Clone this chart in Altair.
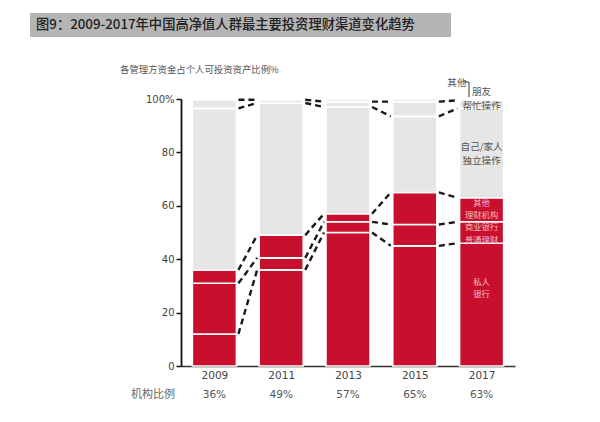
import altair as alt
import pandas as pd

# ---- data ----
years = [2009, 2011, 2013, 2015, 2017]
private_bank = [12, 36, 50, 45, 46]          # 私人银行
commercial_bank = [19, 4.5, 4, 8, 8]         # 商业银行普通理财
other_inst = [5, 8.5, 3, 12, 9]              # 其他理财机构
self_family = [60.5, 49.5, 40, 28.5, 33.5]   # 自己/家人独立操作
friends = [3.2, 1.2, 2, 5.5, 3]              # 朋友帮忙操作
others = [0.3, 0.3, 1, 1, 0.5]               # 其他
institution_share = ["36%", "49%", "57%", "65%", "63%"]

segment_names = ["私人银行", "商业银行普通理财", "其他理财机构", "自己/家人独立操作", "朋友帮忙操作", "其他"]
segment_values = [private_bank, commercial_bank, other_inst, self_family, friends, others]
segment_group = ["机构", "机构", "机构", "非机构", "非机构", "非机构"]

title_text = "图9：2009-2017年中国高净值人群最主要投资理财渠道变化趋势"
subtitle_text = "各管理方资金占个人可投资资产比例%"
row_label = "机构比例"

# annotation lines beside / inside the 2017 bar
gray_lines = ["朋友", "帮忙操作", "自己/家人", "独立操作"]
gray_line_y = [102.6, 97.4, 82.0, 76.8]
red_lines = ["其他", "理财机构", "商业银行", "普通理财", "私人", "银行"]
red_line_y = [60.7, 56.2, 51.5, 47.0, 31.1, 26.6]

HALF = 0.66  # half bar width in years
FONT = "Noto Sans CJK SC"
NUM_FONT = "DejaVu Sans"
RED = "#c8102e"
GRAY = "#e6e6e6"

# ---- build tables ----
rows = []
cum = {y: [0.0] for y in years}
for i, y in enumerate(years):
    base = 0.0
    for name, vals, grp in zip(segment_names, segment_values, segment_group):
        v = vals[i]
        rows.append(dict(year=y, seg=name, grp=grp, x0=y - HALF, x1=y + HALF, y0=base, y1=base + v))
        base += v
        cum[y].append(base)
bars = pd.DataFrame(rows)

conn = []
for i in range(len(years) - 1):
    a, b = years[i], years[i + 1]
    for k in range(1, 6):
        conn.append(dict(x=a + HALF + 0.06, x2=b - HALF - 0.06, y=cum[a][k], y2=cum[b][k]))
conn = pd.DataFrame(conn)

share = pd.DataFrame(dict(year=years, share=institution_share))

W, H = 334, 267
xscale = alt.Scale(domain=[2008, 2018], nice=False)
yscale = alt.Scale(domain=[0, 100], nice=False)

base_bar = alt.Chart(bars).mark_rect(stroke="white", strokeWidth=1.6).encode(
    x=alt.X("x0:Q", scale=xscale,
            axis=alt.Axis(values=years, format="d", title=None, ticks=False, grid=False,
                          domainColor="#333", domainWidth=1.5, labelFont=NUM_FONT,
                          labelFontSize=10.5, labelColor="#444", labelPadding=4)),
    x2="x1:Q",
    y=alt.Y("y0:Q", scale=yscale,
            axis=alt.Axis(values=[0, 20, 40, 60, 80, 100], title=None, grid=False,
                          labelExpr="datum.value == 100 ? '100%' : datum.label",
                          domainColor="#111", domainWidth=1.8, tickColor="#111",
                          tickWidth=1.5, tickSize=5, labelFont=NUM_FONT, labelFontSize=10,
                          labelColor="#444", labelPadding=2)),
    y2="y1:Q",
    color=alt.Color("grp:N", scale=alt.Scale(domain=["机构", "非机构"], range=[RED, GRAY]), legend=None),
)

connectors = alt.Chart(conn).mark_rule(color="#1a1a1a", strokeWidth=2.4, strokeDash=[6, 4]).encode(
    x=alt.X("x:Q", scale=xscale), x2="x2:Q",
    y=alt.Y("y:Q", scale=yscale), y2="y2:Q",
)

share_text = alt.Chart(share).mark_text(font=NUM_FONT, fontSize=10.5, color="#555", baseline="middle").encode(
    x=alt.X("year:Q", scale=xscale), y=alt.value(H + 29), text="share:N"
)

one = pd.DataFrame({"t": [""]})
row_lab = alt.Chart(one).mark_text(font=FONT, fontSize=11, color="#666", baseline="middle", text=row_label).encode(
    x=alt.value(-28), y=alt.value(H + 29)
)

banner = alt.Chart(one).mark_rect(color="#b5b5b5").encode(
    x=alt.value(-151), x2=alt.value(270), y=alt.value(-86), y2=alt.value(-62)
)
banner_text = alt.Chart(one).mark_text(font=FONT, fontSize=13.3, fontWeight=500, color="#222", align="left",
                                       baseline="middle", text=title_text).encode(
    x=alt.value(-145), y=alt.value(-74)
)
subtitle = alt.Chart(one).mark_text(font=FONT, fontSize=9.4, color="#555", align="left",
                                    baseline="middle", text=subtitle_text).encode(
    x=alt.value(-61), y=alt.value(-29)
)

gray_ann = pd.DataFrame(dict(label=gray_lines, x=[2017] * len(gray_lines), y=gray_line_y))
red_ann = pd.DataFrame(dict(label=red_lines, x=[2017] * len(red_lines), y=red_line_y))
gray_text = alt.Chart(gray_ann).mark_text(font=FONT, fontSize=9.6, color="#555", baseline="middle").encode(
    x=alt.X("x:Q", scale=xscale), y=alt.Y("y:Q", scale=yscale), text="label:N"
)
red_text = alt.Chart(red_ann).mark_text(font=FONT, fontSize=8.3, color="#f6bcc4", baseline="middle").encode(
    x=alt.X("x:Q", scale=xscale), y=alt.Y("y:Q", scale=yscale), text="label:N"
)
other_ann = pd.DataFrame(dict(label=["其他"], x=[2016.26], y=[106]))
other_text = alt.Chart(other_ann).mark_text(font=FONT, fontSize=9.6, color="#555", baseline="middle").encode(
    x=alt.X("x:Q", scale=xscale), y=alt.Y("y:Q", scale=yscale), text="label:N"
)
bracket_h = alt.Chart(one).mark_rule(color="#333", strokeWidth=1).encode(
    x=alt.value(283), x2=alt.value(288), y=alt.value(-17)
)
bracket_v = alt.Chart(one).mark_rule(color="#333", strokeWidth=1).encode(
    x=alt.value(288), y=alt.value(-17), y2=alt.value(-2)
)

chart = alt.layer(
    base_bar, connectors, share_text, row_lab, banner, banner_text, subtitle,
    gray_text, red_text, other_text, bracket_h, bracket_v
).properties(
    width=W, height=H,
    autosize=alt.AutoSizeParams(type="none"),
    padding={"left": 181, "top": 99, "right": 85, "bottom": 56},
    background="white",
).configure_view(stroke=None)

chart.save("out.html", embed_options={"renderer": "svg", "actions": False})
